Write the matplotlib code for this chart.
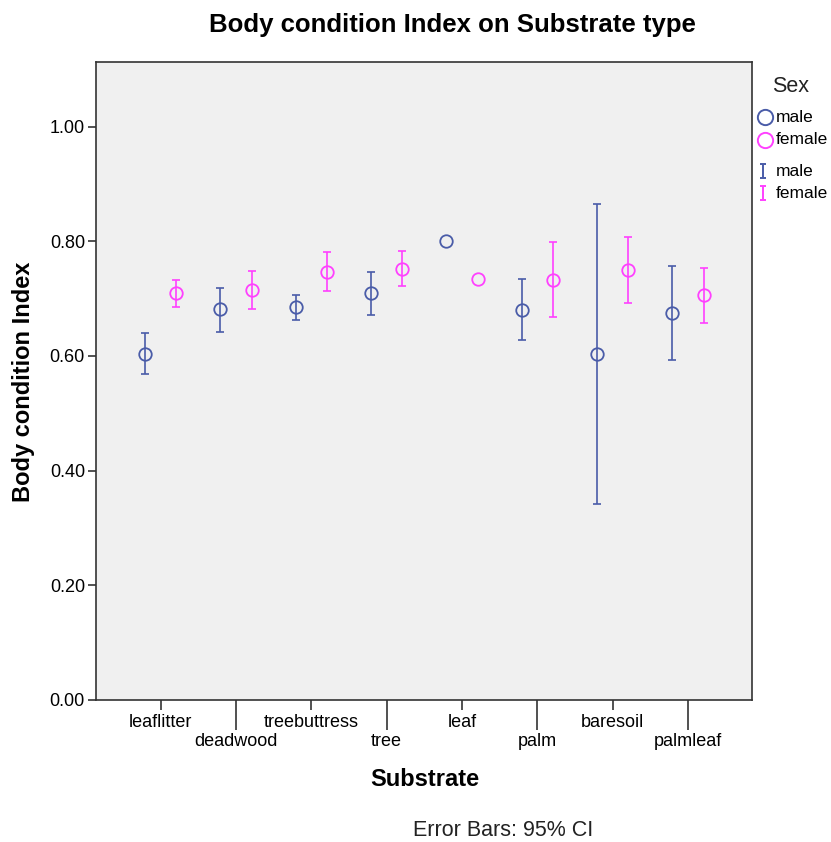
import numpy as np
import matplotlib
matplotlib.use("Agg")
import matplotlib.pyplot as plt
from matplotlib.lines import Line2D
from matplotlib.path import Path

plt.rcParams['font.family'] = ['Liberation Sans', 'DejaVu Sans']

# data (mean and 95% CI bounds)
substrates = ['leaflitter', 'deadwood', 'treebuttress', 'tree', 'leaf', 'palm', 'baresoil', 'palmleaf']
male_mean = [0.603, 0.681, 0.685, 0.709, 0.801, 0.680, 0.603, 0.674]
male_lo   = [0.568, 0.642, 0.663, 0.671, 0.801, 0.628, 0.341, 0.593]
male_hi   = [0.640, 0.719, 0.707, 0.747, 0.801, 0.734, 0.865, 0.756]
female_mean = [0.710, 0.715, 0.747, 0.752, 0.734, 0.732, 0.750, 0.706]
female_lo   = [0.686, 0.682, 0.713, 0.722, 0.734, 0.667, 0.692, 0.658]
female_hi   = [0.732, 0.748, 0.781, 0.783, 0.734, 0.799, 0.808, 0.753]
yticks = [0.0, 0.2, 0.4, 0.6, 0.8, 1.0]

c_male = '#4a5ca8'
c_female = '#ff40ff'

fig = plt.figure(figsize=(8.31, 8.42), dpi=100)
ax = fig.add_axes([96/831, 1 - 700/842, (752-96)/831, (700-62)/842])
ax.set_facecolor('#f0f0f0')

x = np.arange(len(substrates))
off = 0.207

def draw(xs, mean, lo, hi, col):
    mean = np.array(mean); lo = np.array(lo); hi = np.array(hi)
    has_ci = hi > lo
    ax.errorbar(xs[has_ci], mean[has_ci],
                yerr=[mean[has_ci] - lo[has_ci], hi[has_ci] - mean[has_ci]],
                fmt='none', ecolor=col, elinewidth=1.2, capsize=3, capthick=1.2)
    ax.plot(xs, mean, 'o', ms=9, mfc='none', mec=col, mew=1.3, ls='none')

draw(x - off, male_mean, male_lo, male_hi, c_male)
draw(x + off, female_mean, female_lo, female_hi, c_female)

ax.set_xlim(-0.86, 7.85)
ax.set_ylim(0, 1.1125)
ax.set_yticks(yticks)
ax.set_yticklabels(['%.2f' % v for v in yticks], fontsize=13)
ax.tick_params(axis='y', direction='out', length=6, width=1.2, color='#333333', pad=2)

ax.set_xticks(x)
ax.set_xticklabels([])
ax.tick_params(axis='x', length=0)
for i, name in enumerate(substrates):
    short = i % 2 == 0
    ax.plot([i, i], [0, -(10.5 if short else 30) / 573.5], color='#333333', lw=1.2,
            clip_on=False, solid_capstyle='butt')
    ax.text(i, -(23 if short else 42) / 573.5, name, ha='center', va='center', fontsize=13)

for s in ax.spines.values():
    s.set_color('#333333')
    s.set_linewidth(1.2)

fig.text(452/831, 1 - 25/842, 'Body condition Index on Substrate type',
         ha='center', va='center', fontsize=18.5, fontweight='bold')
fig.text(425/831, 1 - 779/842, 'Substrate', ha='center', va='center', fontsize=17, fontweight='bold')
fig.text(24/831, 1 - 382/842, 'Body condition Index', ha='center', va='center',
         rotation=90, fontsize=17, fontweight='bold')
fig.text(503/831, 1 - 830/842, 'Error Bars: 95% CI', ha='center', va='center', fontsize=15.5,
         color='#222222')

# legend
ibar = Path([(-0.5, 1), (0.5, 1), (0, 1), (0, -1), (-0.5, -1), (0.5, -1)],
            [Path.MOVETO, Path.LINETO, Path.MOVETO, Path.LINETO, Path.MOVETO, Path.LINETO])
fig.text(791/831, 1 - 86/842, 'Sex', ha='center', va='center', fontsize=15.5, color='#222222')
leg_rows = [('o', c_male, 'male', 117), ('o', c_female, 'female', 140),
            ('I', c_male, 'male', 171), ('I', c_female, 'female', 193)]
for mk, col, lab, yy in leg_rows:
    if mk == 'o':
        fig.add_artist(Line2D([765/831], [1 - yy/842], marker='o', ms=11, mfc='none', mec=col,
                              mew=1.4, transform=fig.transFigure))
    else:
        fig.add_artist(Line2D([763/831], [1 - yy/842], marker=ibar, ms=10, mfc='none', mec=col,
                              mew=1.4, transform=fig.transFigure))
    fig.text(776/831, 1 - yy/842, lab, ha='left', va='center', fontsize=12.5)

fig.savefig('out.png', dpi=100)
